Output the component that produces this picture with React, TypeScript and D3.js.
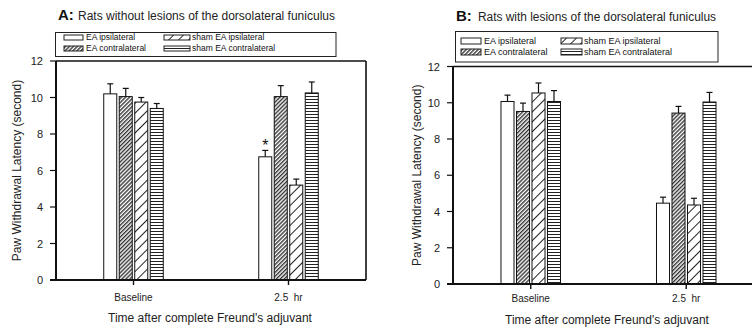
import React from "react";
import * as d3 from "d3";

const categories = ["Baseline", "2.5 hr"];
const seriesNames = ["EA ipsilateral", "EA contralateral", "sham EA ipsilateral", "sham EA contralateral"];
const yTicks = [0, 2, 4, 6, 8, 10, 12];
const panelAMeans = [[10.2, 10.05, 9.75, 9.4], [6.75, 10.05, 5.2, 10.25]];
const panelAErrors = [[0.55, 0.45, 0.25, 0.27], [0.35, 0.6, 0.33, 0.6]];
const panelBMeans = [[10.07, 9.52, 10.54, 10.07], [4.46, 9.43, 4.36, 10.04]];
const panelBErrors = [[0.35, 0.46, 0.55, 0.6], [0.33, 0.37, 0.37, 0.53]];
const panelASignificant = [[false, false, false, false], [true, false, false, false]];
const panelBSignificant = [[false, false, false, false], [false, false, false, false]];
const yAxisTitle = "Paw Withdrawal Latency (second)";
const xAxisTitle = "Time after complete Freund's adjuvant";

const FONT = "'Liberation Sans', Arial, sans-serif";
const fills = ["#fff", "url(#patContra)", "url(#patShamIpsi)", "url(#patShamContra)"];

type PanelProps = {
  letter: string;
  title: string;
  means: number[][];
  errors: number[][];
  sig: boolean[][];
  axisX: number;
  y0: number;
  y12: number;
  bandEnd: number;
  plotRight: number;
  titleX: number;
  titleRestX: number;
  titleBase: number;
  titleWidth: number;
  legend: { x: number; y: number; w: number; h: number; sw: number[]; sx: number[]; tx: number[]; rows: number[]; sh: number; fs: number };
  yLabelX: number;
  xTitleX: number;
  tickLabelY: number;
  xTitleY: number;
};

function Panel(p: PanelProps) {
  const y = d3.scaleLinear().domain([0, 12]).range([p.y0, p.y12]);
  const x = d3.scaleBand<string>().domain(categories).range([p.axisX, p.bandEnd]).padding(0);
  const inner = d3.scaleBand<string>().domain(seriesNames).range([-31, 31]).paddingInner(0.16).paddingOuter(0.08);
  const legendOrder = [[0, 2], [1, 3]];
  return (
    <g fontFamily={FONT}>
      <text x={p.titleX} y={p.titleBase} fontSize={15} fontWeight="bold" fill="#111">{p.letter}</text>
      <text x={p.titleRestX} y={p.titleBase} fontSize={12} fill="#222" textLength={p.titleWidth} lengthAdjust="spacingAndGlyphs">{p.title}</text>
      <rect x={p.legend.x} y={p.legend.y} width={p.legend.w} height={p.legend.h} fill="#fff" stroke="#222" strokeWidth={1} />
      {legendOrder.map((row, r) =>
        row.map((si, c) => (
          <g key={`${r}-${c}`}>
            <rect x={p.legend.sx[c]} y={p.legend.rows[r] - p.legend.sh} width={p.legend.sw[c]} height={p.legend.sh} fill={fills[si]} stroke="#222" strokeWidth={1} />
            <text x={p.legend.tx[c]} y={p.legend.rows[r]} fontSize={p.legend.fs} fill="#111">{seriesNames[si]}</text>
          </g>
        ))
      )}
      {categories.map((cat, ci) =>
        seriesNames.map((s, si) => {
          const cx = (x(cat) as number) + x.bandwidth() / 2;
          const bx = cx + (inner(s) as number);
          const bw = inner.bandwidth();
          const v = p.means[ci][si];
          const e = p.errors[ci][si];
          const mid = bx + bw / 2;
          return (
            <g key={`${ci}-${si}`}>
              <rect x={bx} y={y(v)} width={bw} height={y(0) - y(v)} fill={fills[si]} stroke="#111" strokeWidth={1} />
              <line x1={mid} x2={mid} y1={y(v)} y2={y(v + e)} stroke="#111" strokeWidth={1.2} />
              <line x1={mid - 3} x2={mid + 3} y1={y(v + e)} y2={y(v + e)} stroke="#111" strokeWidth={1.2} />
              {p.sig[ci][si] && (
                <text x={mid} y={y(v + e) + 1} textAnchor="middle" fontSize={16} fill="#111">*</text>
              )}
            </g>
          );
        })
      )}
      <line x1={p.axisX} x2={p.axisX} y1={p.y12} y2={p.y0} stroke="#111" strokeWidth={2} />
      <line x1={p.axisX - 6} x2={p.plotRight} y1={p.y0} y2={p.y0} stroke="#111" strokeWidth={2} />
      <line x1={p.axisX} x2={p.plotRight} y1={p.y12} y2={p.y12} stroke="#111" strokeWidth={1.6} />
      <line x1={p.plotRight} x2={p.plotRight} y1={p.y12} y2={p.y0} stroke="#111" strokeWidth={1.6} />
      {yTicks.map((t) => (
        <g key={t}>
          <line x1={p.axisX - 6} x2={p.axisX} y1={y(t)} y2={y(t)} stroke="#111" strokeWidth={1.2} />
          <text x={p.axisX - 13} y={y(t) + 4} textAnchor="end" fontSize={11} fill="#222">{t}</text>
        </g>
      ))}
      {categories.map((cat) => {
        const cx = (x(cat) as number) + x.bandwidth() / 2;
        return (
          <g key={cat}>
            <line x1={cx} x2={cx} y1={p.y0} y2={p.y0 + 5} stroke="#111" strokeWidth={1.4} />
            <text x={cx} y={p.tickLabelY} textAnchor="middle" fontSize={10} fill="#222">{cat.replace(" ", "\u00a0\u00a0")}</text>
          </g>
        );
      })}
      <text x={p.xTitleX} y={p.xTitleY} textAnchor="middle" fontSize={12} fill="#222">{xAxisTitle}</text>
      <text transform={`translate(${p.yLabelX},${(p.y0 + p.y12) / 2}) rotate(-90)`} textAnchor="middle" fontSize={12} fill="#222">{yAxisTitle}</text>
    </g>
  );
}

export default function App() {
  return (
    <svg width={752} height={329} style={{ position: "absolute", left: 0, top: 0, background: "#fff" }}>
      <defs>
        <pattern id="patContra" patternUnits="userSpaceOnUse" width={2.8} height={2.8} patternTransform="rotate(45)">
          <rect width={2.8} height={2.8} fill="#fff" />
          <line x1={0.7} y1={0} x2={0.7} y2={2.8} stroke="#333" strokeWidth={1.4} />
        </pattern>
        <pattern id="patShamIpsi" patternUnits="userSpaceOnUse" width={7} height={7} patternTransform="rotate(45)">
          <rect width={7} height={7} fill="#fff" />
          <line x1={0.5} y1={0} x2={0.5} y2={7} stroke="#222" strokeWidth={1} />
        </pattern>
        <pattern id="patShamContra" patternUnits="userSpaceOnUse" width={4} height={3}>
          <rect width={4} height={3} fill="#fff" />
          <line x1={0} y1={0.5} x2={4} y2={0.5} stroke="#222" strokeWidth={1} />
        </pattern>
      </defs>
      <rect width={752} height={329} fill="#fff" />
      <Panel
        letter="A:"
        title="Rats without lesions of the dorsolateral funiculus"
        means={panelAMeans}
        errors={panelAErrors}
        sig={panelASignificant}
        axisX={56}
        y0={280}
        y12={61}
        bandEnd={366}
        plotRight={366}
        titleX={58}
        titleRestX={78}
        titleBase={20}
        titleWidth={257}
        legend={{ x: 55.5, y: 32.5, w: 280.5, h: 24, sw: [19, 26], sx: [64, 164], tx: [86, 192], rows: [40, 51], sh: 5, fs: 8.5 }}
        yLabelX={21}
        xTitleX={210}
        tickLabelY={301}
        xTitleY={322}
      />
      <Panel
        letter="B:"
        title="Rats with lesions of the dorsolateral funiculus"
        means={panelBMeans}
        errors={panelBErrors}
        sig={panelBSignificant}
        axisX={453}
        y0={284}
        y12={66.5}
        bandEnd={764}
        plotRight={760}
        titleX={456}
        titleRestX={478}
        titleBase={21}
        titleWidth={238}
        legend={{ x: 455.5, y: 31.5, w: 262.5, h: 30.5, sw: [20, 21], sx: [461, 561], tx: [484, 584], rows: [44, 55], sh: 6, fs: 9 }}
        yLabelX={421}
        xTitleX={607}
        tickLabelY={302}
        xTitleY={324}
      />
    </svg>
  );
}
